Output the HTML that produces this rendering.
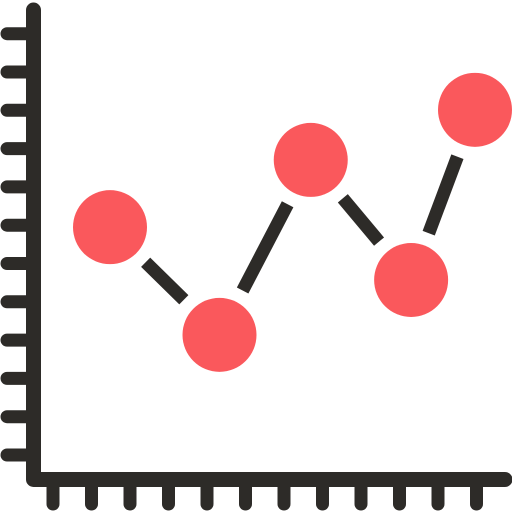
<!DOCTYPE html>
<html><head><style>html,body{margin:0;padding:0;background:#fff}svg{display:block}</style></head>
<body>
<svg id="chart" width="512" height="512" viewBox="0 0 512 512" xmlns="http://www.w3.org/2000/svg">
<g id="axes"></g>
<g id="lines"></g>
<g id="points"></g>
</svg>
<script>
const categories = [0, 1.2, 2.2, 3.3, 4.0];
const values = [7.08, 3.94, 9.04, 5.54, 10.5];
const yTickCount = 12;
const xTickCount = 12;

const NS = 'http://www.w3.org/2000/svg';
const dark = '#2d2b28', red = '#fa585c';
function xScale(i) { return 110 + i * 91.25; }
function yScale(v) { return 470 - v * 34.3; }
function mk(tag, attrs, parent) {
  const el = document.createElementNS(NS, tag);
  for (const k in attrs) el.setAttribute(k, attrs[k]);
  parent.appendChild(el);
  return el;
}
const axes = document.getElementById('axes');
for (let i = 0; i < yTickCount; i++) {
  const y = 455 - i * 38.3;
  const t = mk('line', {x1: 7, y1: y, x2: 33, y2: y, stroke: dark, 'stroke-width': 13, 'stroke-linecap': 'round'}, axes);
  
  
}
for (let i = 0; i < xTickCount; i++) {
  const x = 53 + i * 38.5;
  const t = mk('line', {x1: x, y1: 479, x2: x, y2: 504, stroke: dark, 'stroke-width': 13, 'stroke-linecap': 'round'}, axes);
  
  
}
const ax = mk('path', {d: 'M33.5 10 V479.5 H505', fill: 'none', stroke: dark, 'stroke-width': 15, 'stroke-linecap': 'round', 'stroke-linejoin': 'round'}, axes);



const r = 37, gap = 13;
const lines = document.getElementById('lines');
const points = document.getElementById('points');
for (let i = 0; i < values.length - 1; i++) {
  const x1 = xScale(categories[i]), y1 = yScale(values[i]);
  const x2 = xScale(categories[i + 1]), y2 = yScale(values[i + 1]);
  const d = Math.hypot(x2 - x1, y2 - y1), ux = (x2 - x1) / d, uy = (y2 - y1) / d;
  const o = r + gap;
  const s = mk('line', {x1: x1 + ux * o, y1: y1 + uy * o, x2: x2 - ux * o, y2: y2 - uy * o, stroke: dark, 'stroke-width': 13}, lines);
  
  
}
for (let i = 0; i < values.length; i++) {
  const c = mk('circle', {cx: xScale(categories[i]), cy: yScale(values[i]), r: r, fill: red}, points);
  
  
}
</script>
</body></html>
